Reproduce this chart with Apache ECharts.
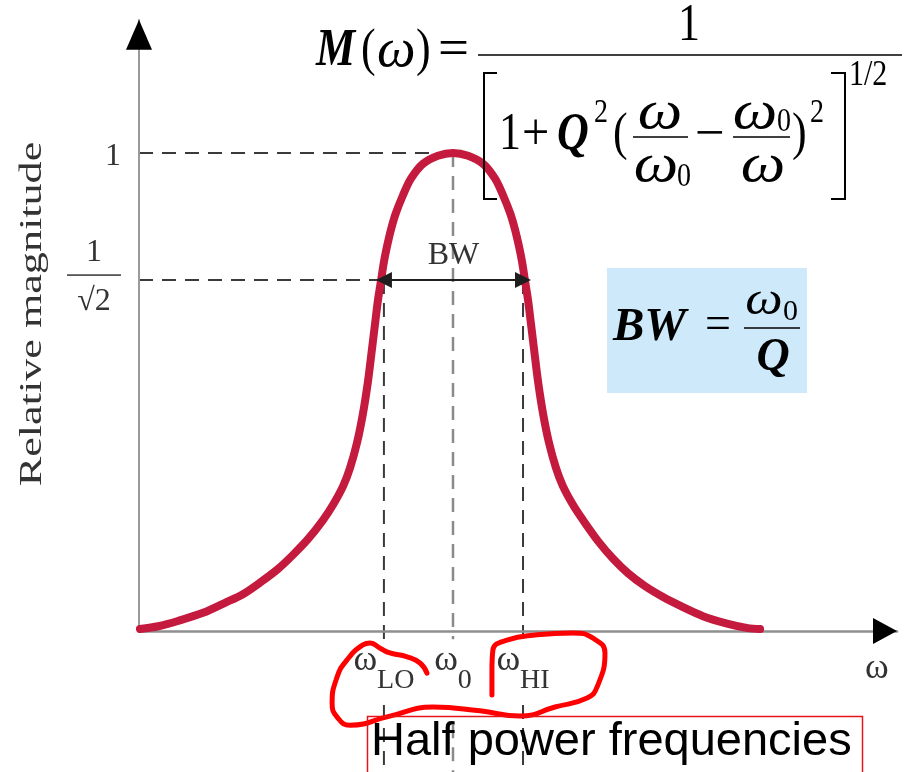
<!DOCTYPE html>
<html><head><meta charset="utf-8">
<script src="https://cdn.jsdelivr.net/npm/echarts@6/dist/echarts.min.js"></script>
<style>html,body{margin:0;padding:0;background:#fff}#c{width:917px;height:772px}</style>
</head><body><div id="c"></div>
<script>
// ---------------- data ----------------
// ω in units of ω0, relative magnitude (1 at resonance)
const omega = [0.003, 0.061, 0.124, 0.204, 0.274, 0.331, 0.389, 0.443, 0.490, 0.538, 0.586, 0.618, 0.650, 0.672, 0.694, 0.713,
               0.729, 0.742, 0.752, 0.761, 0.771, 0.780, 0.790, 0.803, 0.818, 0.841, 0.866, 0.904, 0.952, 1.000,
               1.048, 1.096, 1.134, 1.159, 1.182, 1.197, 1.210, 1.220, 1.229, 1.239, 1.248, 1.258, 1.271, 1.287, 1.306,
               1.328, 1.350, 1.382, 1.414, 1.462, 1.510, 1.557, 1.611, 1.669, 1.726, 1.796, 1.876, 1.939, 1.978];
const magnitude = [0.004, 0.010, 0.021, 0.038, 0.059, 0.077, 0.103, 0.130, 0.159, 0.192, 0.232, 0.264, 0.303, 0.341, 0.393, 0.454,
                   0.521, 0.590, 0.644, 0.692, 0.734, 0.772, 0.805, 0.841, 0.874, 0.912, 0.946, 0.977, 0.994, 1.000,
                   0.994, 0.977, 0.946, 0.912, 0.874, 0.841, 0.805, 0.772, 0.734, 0.692, 0.644, 0.590, 0.521, 0.454, 0.393,
                   0.341, 0.303, 0.264, 0.232, 0.188, 0.151, 0.121, 0.094, 0.071, 0.052, 0.031, 0.015, 0.006, 0.004];
const halfPower = 0.734;          // drawn level of 1/√2
const peak = 1.0;
const omegaLO = 0.780, omega0 = 1.0, omegaHI = 1.223;
const xTickValues = [omegaLO, omega0, omegaHI, 2.350];
const xTickMain = ['ω', 'ω', 'ω', 'ω'];
const xTickSub = ['LO', '0', 'HI', ''];
const yTickValues = [peak, halfPower];
const yTickLabels = ['1', '1/√2'];
const yAxisName = 'Relative magnitude';
const bwLabel = 'BW';
const noteText = 'Half power frequencies';
// hand-drawn red annotation stroke (ω, magnitude coordinates)
const annotX = [0.917, 0.895, 0.854, 0.799, 0.768, 0.736, 0.713, 0.662, 0.631, 0.615, 0.631, 0.672, 0.799, 0.936, 1.086, 1.213,
                1.325, 1.427, 1.459, 1.484, 1.446, 1.382, 1.268, 1.172, 1.127, 1.124, 1.124];
const annotY = [-0.088, -0.067, -0.054, -0.046, -0.036, -0.025, -0.029, -0.061, -0.096, -0.151, -0.180, -0.197, -0.178, -0.159,
                -0.167, -0.178, -0.159, -0.140, -0.117, -0.046, -0.015, -0.004, -0.008, -0.019, -0.040, -0.082, -0.134];

// ---------------- axis extents / layout ----------------
const XMAX = 2.414, YMAX = 1.278;
const XARROW = 2.3758, YARROW = 1.2469;
const gapTop = -0.017, gapBottom = -0.155, guideBottom = -0.295;   // guides pause behind the ω labels

const SERIF = '"Liberation Serif","Times New Roman",serif';
const dark = {color: '#3a3a3a', width: 2, type: [14, 9]};
const grayDash = {color: '#8a8a8a', width: 2.5, type: [14, 9]};

const chart = echarts.init(document.getElementById('c'), null, {renderer: 'canvas'});

function T(x, y, text, font, o) {
  o = o || {};
  return {
    type: 'text', x: x, y: y, z: 10, silent: true,
    scaleX: o.sx || 1, scaleY: o.sy || 1, rotation: o.rot || 0,
    style: {text: text, font: font, fill: o.fill || '#000',
      textAlign: o.align || 'left', align: o.align || 'left',
      textVerticalAlign: 'middle', verticalAlign: 'middle'}
  };
}
function L(x1, y1, x2, y2, w) {
  return {type: 'line', z: 10, silent: true, shape: {x1: x1, y1: y1, x2: x2, y2: y2}, style: {stroke: '#000', lineWidth: w || 1.6}};
}
function P(points) {
  return {type: 'polyline', z: 10, silent: true, shape: {points: points}, style: {stroke: '#000', lineWidth: 2, fill: null}};
}
const F = 44, SY = 1.2;
const BI = 'bold italic ' + F + 'px ' + SERIF;
const IT = 'italic 42px ' + SERIF;
const RM = F + 'px ' + SERIF;
const SM = '28px ' + SERIF;
const WX = 1.5, WY = 1.3;

const graphics = [
  // M(ω) = 1 / [ ... ]^(1/2)
  T(316, 51, 'M', BI, {sy: SY}),
  T(361, 51, '(', RM, {sy: SY}),
  T(377, 52, 'ω', IT, {sy: WY, sx: 1.3}),
  T(416, 51, ')', RM, {sy: SY}),
  T(438, 51, '=', RM, {sy: SY, sx: 1.25}),
  T(689, 26, '1', RM, {sy: SY, align: 'center'}),
  L(478, 55, 902, 55, 1.6),
  P([[497, 73], [484, 73], [484, 199], [497, 199]]),
  P([[831, 73], [845, 73], [845, 199], [831, 199]]),
  T(849, 76, '1/2', '30px ' + SERIF, {sy: SY}),
  T(499, 135, '1', RM, {sy: SY}),
  T(522, 135, '+', RM, {sy: SY, sx: 1.1}),
  T(557, 135, 'Q', BI, {sy: SY}),
  T(594, 113, '2', SM, {sy: SY}),
  T(613, 135, '(', RM, {sy: SY}),
  T(660, 114, 'ω', IT, {sy: WY, sx: WX, align: 'center'}),
  L(633, 137, 688, 137, 1.6),
  T(656, 167, 'ω', IT, {sy: WY, sx: WX, align: 'center'}),
  T(677, 177, '0', SM, {sy: SY}),
  T(710, 136, '−', RM, {sy: SY, align: 'center', sx: 1.2}),
  T(755, 114, 'ω', IT, {sy: WY, sx: WX, align: 'center'}),
  T(777, 122, '0', SM, {sy: SY}),
  L(733, 137, 790, 137, 1.6),
  T(763, 167, 'ω', IT, {sy: WY, sx: WX, align: 'center'}),
  T(792, 135, ')', RM, {sy: SY}),
  T(810, 113, '2', SM, {sy: SY}),
  // BW = ω0 / Q box
  {type: 'rect', z: 9, silent: true, shape: {x: 607, y: 268, width: 200, height: 125}, style: {fill: '#cde9fa'}},
  T(613, 328, 'BW', 'bold italic 47px ' + SERIF),
  T(705, 326, '=', '46px ' + SERIF),
  T(764, 302, 'ω', 'italic 46px ' + SERIF, {align: 'center', sx: 1.15}),
  T(783, 312, '0', '30px ' + SERIF),
  L(744, 328, 800, 328, 1.6),
  T(773, 358, 'Q', 'bold italic 46px ' + SERIF, {align: 'center'}),
  // y axis title
  T(33, 314, yAxisName, '32px ' + SERIF, {rot: Math.PI / 2, sx: 1.38, align: 'center', fill: '#333'}),
  // note box
  {type: 'rect', z: 9, silent: true, shape: {x: 367.5, y: 716.5, width: 495, height: 70}, style: {fill: null, stroke: '#e8141b', lineWidth: 1.5}},
  T(371, 742, noteText, '47px "Liberation Sans", Arial, sans-serif')
];

function guide(x1, y1, x2, y2, style) {
  return {type: 'line', z: -1, silent: true, symbol: 'none', clip: false, animation: false,
          data: [[x1, y1], [x2, y2]], lineStyle: style};
}

const option = {
  animation: false,
  grid: {left: 139, right: 20, top: 20, bottom: 141, containLabel: false, outerBoundsMode: 'none'},
  xAxis: {
    type: 'value', min: 0, max: XMAX,
    axisLine: {onZero: false, lineStyle: {color: '#8f8f8f', width: 2.5}},
    axisTick: {show: false}, splitLine: {show: false},
    axisLabel: {
      customValues: xTickValues, margin: 12, color: '#333',
      formatter: function (v) {
        let i = 0, best = 1e9;
        xTickValues.forEach(function (t, k) { if (Math.abs(t - v) < best) { best = Math.abs(t - v); i = k; } });
        return xTickSub[i] ? '{w|' + xTickMain[i] + '}{s|' + xTickSub[i] + '}' : '{e|' + xTickMain[i] + '}';
      },
      rich: {
        w: {fontFamily: SERIF, fontSize: 36, color: '#333', lineHeight: 36, verticalAlign: 'top'},
        e: {fontFamily: SERIF, fontSize: 36, color: '#333', lineHeight: 36, verticalAlign: 'top', padding: [8, 0, 0, 0]},
        s: {fontFamily: SERIF, fontSize: 28, color: '#333', lineHeight: 28, padding: [24, 0, 0, 0], verticalAlign: 'top'}
      }
    }
  },
  yAxis: {
    type: 'value', min: 0, max: YMAX,
    axisLine: {show: true, lineStyle: {color: '#9a9a9a', width: 2}}, axisTick: {show: false}, splitLine: {show: false},
    axisLabel: {
      customValues: yTickValues, margin: 18, color: '#333',
      formatter: function (v) {
        const i = Math.abs(v - yTickValues[0]) < 1e-6 ? 0 : 1;
        const lab = yTickLabels[i];
        if (lab.indexOf('/') < 0) return '{one|' + lab + '}';
        const parts = lab.split('/');
        return '{num|' + parts[0] + '}\n{hr|}\n{den|' + parts[1] + '}';
      },
      rich: {
        one: {fontFamily: SERIF, fontSize: 32, color: '#333', padding: [8, 0, 0, 0]},
        num: {fontFamily: SERIF, fontSize: 32, color: '#333', width: 54, align: 'center', lineHeight: 44},
        hr: {width: 54, height: 0, borderColor: '#333', borderWidth: 1},
        den: {fontFamily: SERIF, fontSize: 32, color: '#333', width: 54, align: 'center', lineHeight: 54}
      }
    }
  },
  series: [
    guide(0, peak, omega0, peak, dark),
    guide(0, halfPower, omegaLO, halfPower, dark),
    guide(omega0, peak, omega0, gapTop, grayDash),
    guide(omega0, gapBottom - 0.04, omega0, guideBottom, grayDash),
    guide(omegaLO, halfPower, omegaLO, gapTop, dark),
    guide(omegaLO, gapBottom, omegaLO, guideBottom, dark),
    guide(omegaHI, halfPower, omegaHI, gapTop, dark),
    guide(omegaHI, gapBottom, omegaHI, guideBottom, dark),
    {
      name: 'bw', type: 'line', data: [], z: 1, silent: true, symbol: 'none',
      markLine: {
        silent: true, symbol: ['triangle', 'triangle'], symbolSize: 16, animation: false,
        lineStyle: {color: '#1e1e1e', width: 2, type: 'solid'},
        label: {show: true, formatter: bwLabel, position: 'insideMiddleTop', distance: 8,
                fontFamily: SERIF, fontSize: 32, color: '#333'},
        data: [[{coord: [omegaLO, halfPower]}, {coord: [omegaHI, halfPower]}]]
      }
    },
    {
      name: 'M(ω)', type: 'line', z: 3, silent: true, symbol: 'none', smooth: 0.3,
      data: omega.map(function (x, i) { return [x, magnitude[i]]; }),
      lineStyle: {color: '#c41a3e', width: 8, cap: 'round', join: 'round'}
    },
    {
      name: 'annotation', type: 'line', z: 4, silent: true, symbol: 'none', smooth: 0.5, clip: false,
      data: annotX.map(function (x, i) { return [x, annotY[i]]; }),
      lineStyle: {color: '#ff0000', width: 5, cap: 'round', join: 'round'}
    },
    {
      name: 'arrows', type: 'line', data: [], z: 5, silent: true, symbol: 'none',
      markPoint: {
        symbol: 'triangle', silent: true, label: {show: false}, itemStyle: {color: '#000'}, animation: false,
        data: [
          {coord: [XARROW, 0], symbolSize: [26, 24], symbolRotate: -90},
          {coord: [0, YARROW], symbolSize: [26, 30]}
        ]
      }
    }
  ],
  graphic: graphics
};
chart.setOption(option);
</script>
</body></html>
